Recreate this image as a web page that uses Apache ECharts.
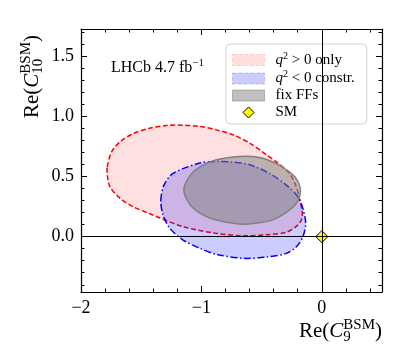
<!DOCTYPE html>
<html>
<head>
<meta charset="utf-8">
<script src="https://cdn.jsdelivr.net/npm/echarts@6/dist/echarts.min.js"></script>
<style>
  html, body { margin: 0; padding: 0; background: #fff; }
  #container { width: 407px; height: 356px; }
</style>
</head>
<body>
<div id="container"></div>
<script>
// contours, [Re(C9), Re(C10)]
var redContour = [
  [-1.782, 0.580], [-1.745, 0.705], [-1.675, 0.788], [-1.566, 0.857], [-1.428, 0.901],
  [-1.289, 0.924], [-1.152, 0.926], [-1.013, 0.915], [-0.875, 0.887], [-0.737, 0.846],
  [-0.599, 0.777], [-0.460, 0.680], [-0.375, 0.619], [-0.269, 0.525], [-0.211, 0.414],
  [-0.184, 0.304], [-0.162, 0.207], [-0.170, 0.138], [-0.211, 0.085], [-0.300, 0.035],
  [-0.460, 0.015], [-0.654, 0.007], [-0.875, 0.027], [-1.152, 0.082], [-1.345, 0.155],
  [-1.428, 0.190], [-1.566, 0.248], [-1.675, 0.318], [-1.760, 0.414], [-1.780, 0.500]
];
var blueContour = [
  [-1.337, 0.300], [-1.310, 0.430], [-1.235, 0.525], [-1.013, 0.611], [-0.875, 0.625],
  [-0.737, 0.619], [-0.599, 0.597], [-0.433, 0.525], [-0.294, 0.428], [-0.198, 0.331],
  [-0.157, 0.235], [-0.134, 0.110], [-0.157, -0.001], [-0.211, -0.084], [-0.294, -0.139],
  [-0.460, -0.170], [-0.654, -0.180], [-0.875, -0.147], [-1.013, -0.097], [-1.152, -0.028],
  [-1.262, 0.069], [-1.318, 0.179]
];
var greyContour = [
  [-1.146, 0.387], [-1.096, 0.505], [-1.013, 0.580], [-0.875, 0.638], [-0.683, 0.666],
  [-0.517, 0.658], [-0.378, 0.608], [-0.310, 0.566], [-0.222, 0.495], [-0.177, 0.380],
  [-0.222, 0.262], [-0.378, 0.152], [-0.517, 0.115], [-0.683, 0.105], [-0.906, 0.146],
  [-1.013, 0.195], [-1.096, 0.268]
];
var smPoint = [[0, 0]];
var seriesNames = ['q2>0', 'q2<0', 'fix FFs', 'SM'];
var legendLabels = [
  '{q|q}{s|2}{t| > 0 only}',
  '{q|q}{s|2}{t| < 0 constr.}',
  '{t|fix FFs}',
  '{t|SM}'
];

var FONT = 'Liberation Serif';

var dom = document.getElementById('container');
var myChart = echarts.init(dom, null, { renderer: 'canvas' });

function contourSeries(name, pts, fill, stroke, dash) {
  return {
    name: name,
    type: 'custom',
    data: pts,
    encode: { x: 0, y: 1 },
    renderItem: function (params, api) {
      if (params.dataIndex !== 0) return;
      var p = pts.map(function (d) { return api.coord(d); });
      return {
        type: 'polygon',
        shape: { points: p, smooth: 0.3 },
        style: { fill: fill, stroke: stroke, lineWidth: 1.5, lineDash: dash }
      };
    }
  };
}

var xFmt = function (v) { return String(v).replace('-', '\u2212'); };
var tickStyle = { color: '#000', width: 1 };

function xAx(pos, labels) {
  return {
    type: 'value', position: pos, min: -2, max: 0.5, interval: 1,
    axisLine: { show: true, onZero: false, lineStyle: { color: '#000', width: 1.2 } },
    axisTick: { inside: true, length: 6, lineStyle: tickStyle },
    minorTick: { show: true, splitNumber: 5, length: 3.5, lineStyle: tickStyle },
    axisLabel: { show: labels, formatter: xFmt, fontFamily: FONT, fontSize: 18, color: '#000',
                 margin: 7, showMaxLabel: false },
    splitLine: { show: false }
  };
}
function yAx(pos, labels) {
  return {
    type: 'value', position: pos, min: -0.46, max: 1.725, splitNumber: 5,
    axisLine: { show: true, onZero: false, lineStyle: { color: '#000', width: 1.2 } },
    axisTick: { inside: true, length: 6, lineStyle: tickStyle },
    minorTick: { show: true, splitNumber: 5, length: 3.5, lineStyle: tickStyle },
    axisLabel: { show: labels, formatter: function (v) { return v.toFixed(1); },
                 fontFamily: FONT, fontSize: 18, color: '#000', margin: 7,
                 showMinLabel: false, showMaxLabel: false },
    splitLine: { show: false }
  };
}

var titleRich = {
  r: { fontFamily: FONT, fontSize: 21, color: '#000', align: 'left' },
  c: { fontFamily: FONT, fontSize: 21, fontStyle: 'italic', color: '#000', align: 'left' },
  sub: { fontFamily: FONT, fontSize: 15, color: '#000', padding: [12, 0, 0, 0], width: 0, align: 'left' },
  sup: { fontFamily: FONT, fontSize: 15, color: '#000', padding: [0, 0, 12, 0], align: 'left' }
};

var option = {
  animation: false,
  grid: { left: 81, right: 25, top: 29, bottom: 64 },
  xAxis: [xAx('bottom', true), xAx('top', false)],
  yAxis: [yAx('left', true), yAx('right', false)],
  legend: {
    orient: 'vertical', left: 226, top: 44,
    padding: [7, 12, 4, 6], itemGap: 2, itemWidth: 32, itemHeight: 11,
    backgroundColor: 'rgba(255,255,255,0.8)', borderColor: '#d0d0d0', borderWidth: 1, borderRadius: 4,
    textStyle: {
      fontFamily: FONT, fontSize: 15, color: '#000', padding: [0, 0, 0, 6],
      rich: {
        q: { fontFamily: FONT, fontSize: 15, fontStyle: 'italic', color: '#000' },
        s: { fontFamily: FONT, fontSize: 10, color: '#000', padding: [0, 0, 8, 0] },
        t: { fontFamily: FONT, fontSize: 15, color: '#000' }
      }
    },
    formatter: function (name) { return legendLabels[seriesNames.indexOf(name)]; },
    data: [
      { name: seriesNames[0], icon: 'rect', itemStyle: { color: 'rgba(255,0,0,0.13)', borderColor: 'rgba(255,0,0,0.15)', borderWidth: 1, borderType: 'dashed' } },
      { name: seriesNames[1], icon: 'rect', itemStyle: { color: 'rgba(0,0,255,0.2)', borderColor: 'rgba(0,0,255,0.2)', borderWidth: 1, borderType: 'dashed' } },
      { name: seriesNames[2], icon: 'rect', itemStyle: { color: 'rgba(128,128,128,0.5)', borderColor: 'rgba(128,128,128,0.5)', borderWidth: 1 } },
      { name: seriesNames[3], icon: 'path://M0,-1L1,0L0,1L-1,0Z', itemStyle: { color: '#ffff00', borderColor: '#000', borderWidth: 1 } }
    ]
  },
  graphic: [
    {
      type: 'text', x: 111, y: 68,
      style: {
        text: '{t|LHCb 4.7 fb}{s|\u22121}', textVerticalAlign: 'middle',
        rich: {
          t: { fontFamily: FONT, fontSize: 16, color: '#000' },
          s: { fontFamily: FONT, fontSize: 11, color: '#000', padding: [0, 0, 9, 0] }
        }
      }
    },
    {
      type: 'text', x: 382, y: 331,
      style: {
        text: '{r|Re(}{c|C}{sub|9}{sup|BSM}{r|)}', textAlign: 'right', textVerticalAlign: 'middle',
        rich: titleRich
      }
    },
    {
      type: 'text', x: 32, y: 118, rotation: Math.PI / 2,
      style: {
        text: '{r|Re(}{c|C}{sub|10}{sup|BSM}{r|)}', textAlign: 'left', textVerticalAlign: 'middle',
        rich: titleRich
      }
    }
  ],
  series: [
    contourSeries(seriesNames[0], redContour, 'rgba(255,0,0,0.12)', '#ff0000', [5, 2.5]),
    contourSeries(seriesNames[1], blueContour, 'rgba(0,0,255,0.2)', '#0000ff', [7, 2.5, 1.5, 2.5]),
    contourSeries(seriesNames[2], greyContour, 'rgba(128,128,128,0.5)', '#808080', null),
    {
      name: 'zero', type: 'scatter', data: [], z: 3, silent: true,
      markLine: {
        silent: true, symbol: ['none', 'none'], animation: false,
        label: { show: false },
        lineStyle: { color: '#000', width: 1, type: 'solid' },
        data: [{ xAxis: 0 }, { yAxis: 0 }]
      }
    },
    {
      name: seriesNames[3], type: 'scatter', z: 4, data: smPoint,
      symbol: 'diamond', symbolSize: 12,
      itemStyle: { color: '#ffff00', borderColor: '#000', borderWidth: 1, opacity: 1 }
    }
  ]
};

if (option && typeof option === 'object') {
  myChart.setOption(option);
}

window.addEventListener('resize', myChart.resize);
</script>
</body>
</html>
